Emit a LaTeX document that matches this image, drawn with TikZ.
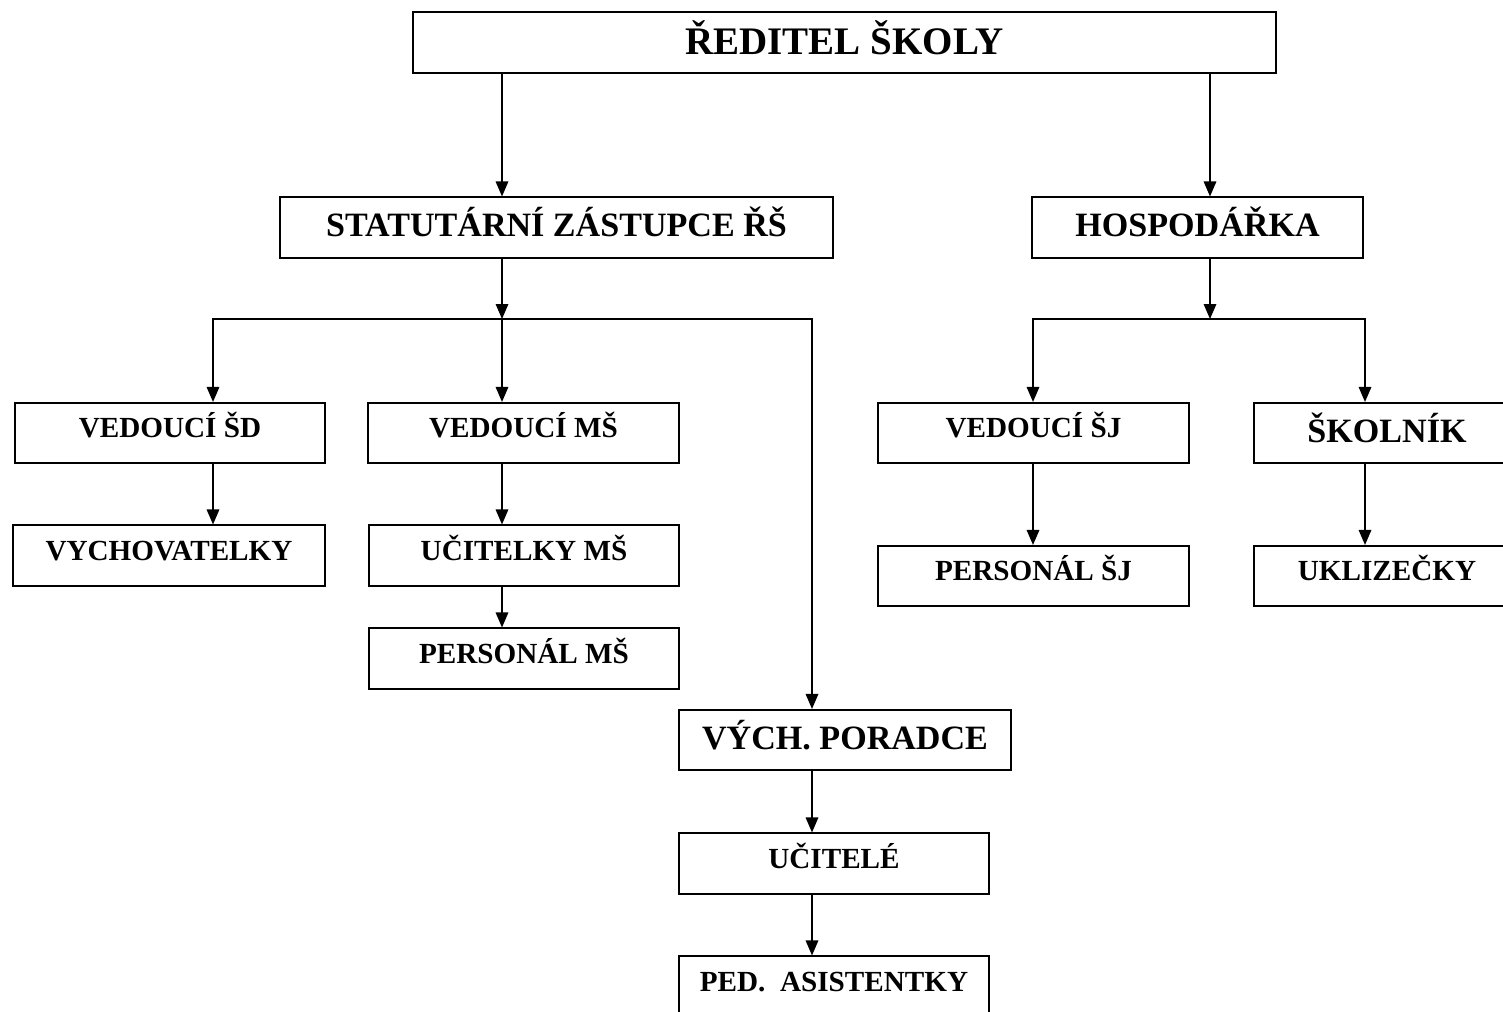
\documentclass[tikz,border=0pt]{standalone}
\usepackage{fontspec}
\setmainfont{Liberation Serif}
\usetikzlibrary{arrows.meta}
\begin{document}
\begin{tikzpicture}[x=0.02cm,y=-0.02cm,
	box/.style={draw, line width=0.9pt, inner sep=0pt, minimum height=1.21cm, text height=0.18cm, text depth=0cm, font=\bfseries\fontsize{16.6}{18}\selectfont},
	bigbox/.style={box, text height=0.36cm, font=\bfseries\fontsize{19.4}{21}\selectfont},
	arr/.style={line width=0.9pt, -{Triangle[length=0.3cm,width=0.25cm]}},
	bus/.style={line width=0.9pt, line cap=rect}]
	\clip (0,0) rectangle (1503,1011);
	\node [box, minimum width=17.26cm, minimum height=1.22cm, text height=0.5cm, font=\bfseries\fontsize{22.2}{24}\selectfont] (reditel) at (844.5,42.5) {ŘEDITEL ŠKOLY};
	\node [bigbox, minimum width=11.06cm] (zastupce) at (556.5,227.5) {STATUTÁRNÍ ZÁSTUPCE ŘŠ};
	\node [bigbox, minimum width=6.62cm] (hospodarka) at (1197.5,227.5) {HOSPODÁŘKA};
	\node [box, minimum width=6.2cm] (vedSD) at (170,433) {VEDOUCÍ ŠD};
	\node [box, minimum width=6.22cm] (vedMS) at (523.5,433) {VEDOUCÍ MŠ};
	\node [box, minimum width=6.22cm] (vedSJ) at (1033.5,433) {VEDOUCÍ ŠJ};
	\node [bigbox, minimum width=5.32cm] (skolnik) at (1387,433) {ŠKOLNÍK};
	\node [box, minimum width=6.24cm] (vychovatelky) at (169,555.5) {VYCHOVATELKY};
	\node [box, minimum width=6.2cm] (ucitelkyMS) at (524,555.5) {UČITELKY MŠ};
	\node [box, minimum width=6.2cm] (personalMS) at (524,658.5) {PERSONÁL MŠ};
	\node [box, minimum width=6.22cm] (personalSJ) at (1033.5,576) {PERSONÁL ŠJ};
	\node [box, minimum width=5.32cm] (uklizecky) at (1387,576) {UKLIZEČKY};
	\node [bigbox, minimum width=6.64cm] (vychporadce) at (845,740) {VÝCH. PORADCE};
	\node [box, minimum width=6.2cm] (ucitele) at (834,863.5) {UČITELÉ};
	\node [box, minimum width=6.2cm] (pedasist) at (834,986.5) {PED.\ \ ASISTENTKY};
	% sbernice
	\coordinate (busL) at (502,319);
	\coordinate (colSD) at (213,319);
	\coordinate (colVP) at (812,319);
	\coordinate (busR) at (1210,319);
	\coordinate (colSJ) at (1033,319);
	\coordinate (colSk) at (1365,319);
	\draw [arr] (reditel.south -| busL) -- (zastupce.north -| busL);
	\draw [arr] (reditel.south -| busR) -- (hospodarka.north -| busR);
	\draw [arr] (zastupce.south -| busL) -- (busL);
	\draw [arr] (hospodarka.south -| busR) -- (busR);
	\draw [bus] (colSD) -- (colVP);
	\draw [bus] (colSJ) -- (colSk);
	\draw [arr] (colSD) -- (vedSD.north -| colSD);
	\draw [arr] (busL) -- (vedMS.north -| busL);
	\draw [arr] (colVP) -- (vychporadce.north -| colVP);
	\draw [arr] (colSJ) -- (vedSJ.north -| colSJ);
	\draw [arr] (colSk) -- (skolnik.north -| colSk);
	\draw [arr] (vedSD.south -| colSD) -- (vychovatelky.north -| colSD);
	\draw [arr] (vedMS.south -| busL) -- (ucitelkyMS.north -| busL);
	\draw [arr] (ucitelkyMS.south -| busL) -- (personalMS.north -| busL);
	\draw [arr] (vychporadce.south -| colVP) -- (ucitele.north -| colVP);
	\draw [arr] (ucitele.south -| colVP) -- (pedasist.north -| colVP);
	\draw [arr] (vedSJ.south -| colSJ) -- (personalSJ.north -| colSJ);
	\draw [arr] (skolnik.south -| colSk) -- (uklizecky.north -| colSk);
\end{tikzpicture}
\end{document}
